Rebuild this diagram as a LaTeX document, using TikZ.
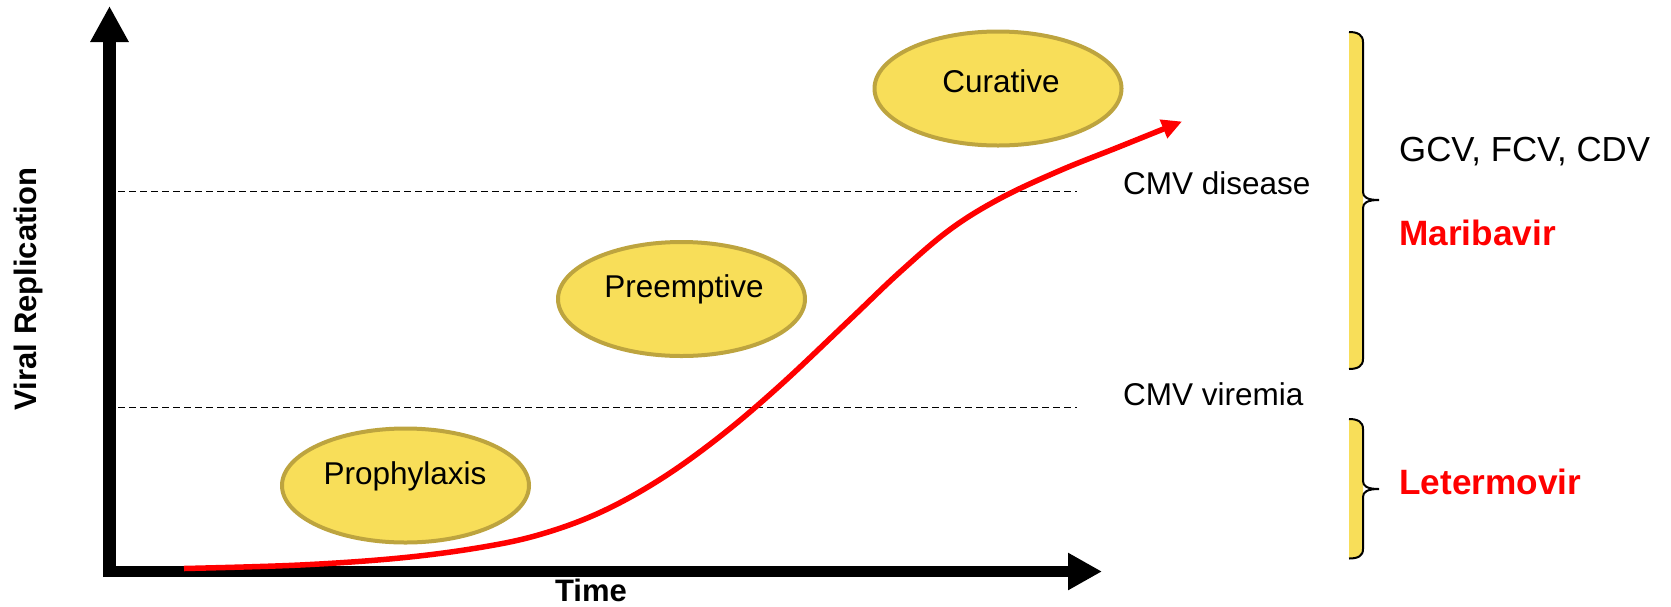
\documentclass[tikz,border=0pt]{standalone}
\usepackage{fontspec}
\setmainfont{Liberation Sans}
\usetikzlibrary{arrows.meta,shapes.geometric}

\definecolor{ovalfill}{HTML}{F8DE59}
\definecolor{ovaledge}{HTML}{BDA43F}
\definecolor{curvered}{HTML}{FF0000}

\begin{document}
\begin{tikzpicture}[x=1pt,y=-1pt,
  oval/.style={ellipse, draw=ovaledge, fill=ovalfill, line width=4pt,
    minimum width=247pt, minimum height=114pt, inner sep=0pt},
  ovaltext/.style={font=\fontsize{31.5}{36}\selectfont, anchor=base, inner sep=0pt},
  level/.style={dash pattern=on 7pt off 4pt, line width=1.5pt},
  levellabel/.style={font=\fontsize{31.5}{36}\selectfont, anchor=base west, inner sep=0pt},
  druglabel/.style={font=\fontsize{34.8}{40}\selectfont, anchor=base west, inner sep=0pt},
  newdrug/.style={font=\fontsize{35.2}{40}\selectfont\bfseries, text=curvered, anchor=base west, inner sep=0pt},
  axislabel/.style={font=\fontsize{31}{36}\selectfont\bfseries, anchor=base, inner sep=0pt},
  bracefill/.style={fill=ovalfill},
  braceline/.style={draw=black, line width=2pt},
]
\useasboundingbox (0,0) rectangle (1671,606);

% axes
\coordinate (ybot) at (109.5,577);
\coordinate (ytop) at (109.5,6);
\coordinate (xleft) at (103,571.5);
\coordinate (xend) at (1102,571.5);
\draw[line width=13pt, -{Triangle[length=36pt,width=36pt]}] (ybot) -- (ytop);
\draw[line width=11pt, -{Triangle[length=34pt,width=35pt]}] (xleft) -- (xend);

\node[axislabel] (time) at (591,601.5) {Time};
\node[axislabel, rotate=90] (vrep) at (36,289) {Viral Replication};

% threshold levels
\coordinate (disL) at (118,191.5);
\coordinate (disR) at (1077,191.5);
\coordinate (virL) at (118,407.5);
\coordinate (virR) at (1077,407.5);
\draw[level] (disL) -- (disR);
\draw[level] (virL) -- (virR);
\node[levellabel] (dis) at (1123,194) {CMV disease};
\node[levellabel] (vir) at (1123,405) {CMV viremia};

% strategies
\node[oval] (proph) at (405.5,485.5) {};
\node[oval] (preem) at (681.5,299) {};
\node[oval] (cur) at (998,88.5) {};
\node[ovaltext] at (405,484) {Prophylaxis};
\node[ovaltext] at (684,297) {Preemptive};
\node[ovaltext] at (1001,92) {Curative};

% viral load curve
\draw[curvered, line width=5.5pt, -{Triangle[length=20pt,width=19pt]}]
  plot[smooth, tension=0.6] coordinates {
    (184,568.5) (300,565) (400,558) (480,547.5) (540,534.5) (600,512.5)
    (660,479.5) (720,436.5) (780,385.5) (850,319.5) (900,272)
    (950,229.5) (1000,198.5) (1060,170.5) (1120,146.5) (1182,121.5)};

% upper brace
\fill[bracefill] (1349,32) .. controls (1358,32) and (1363,35) .. (1363,42)
  -- (1363,359) .. controls (1363,366) and (1358,369) .. (1349,369) -- cycle;
\draw[braceline] (1349,32) .. controls (1358,32) and (1363,35) .. (1363,42)
  -- (1363,192) .. controls (1363,197) and (1367,200) .. (1379,200)
  .. controls (1367,200) and (1363,203) .. (1363,208)
  -- (1363,359) .. controls (1363,366) and (1358,369) .. (1349,369);

% lower brace
\fill[bracefill] (1349,419) .. controls (1358,419) and (1363,422) .. (1363,429)
  -- (1363,549) .. controls (1363,556) and (1358,558.5) .. (1349,558.5) -- cycle;
\draw[braceline] (1349,419) .. controls (1358,419) and (1363,422) .. (1363,429)
  -- (1363,481) .. controls (1363,486) and (1367,489) .. (1379,489)
  .. controls (1367,489) and (1363,492) .. (1363,497)
  -- (1363,549) .. controls (1363,556) and (1358,558.5) .. (1349,558.5);

% drugs
\node[druglabel] (old) at (1399,161.5) {GCV, FCV, CDV};
\node[newdrug] (mbv) at (1399,245.5) {Maribavir};
\node[newdrug] (ltv) at (1399,494) {Letermovir};
\end{tikzpicture}
\end{document}
